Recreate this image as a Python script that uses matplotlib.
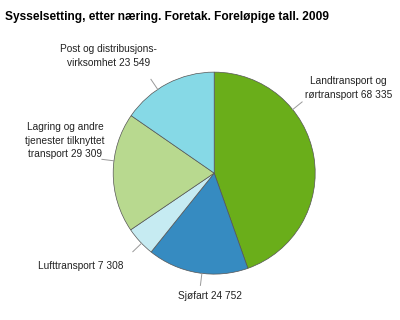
import numpy as np
import matplotlib
matplotlib.use("Agg")
import matplotlib.pyplot as plt

plt.rcParams['font.family'] = ['Liberation Sans', 'DejaVu Sans']

# Data
labels = ["Landtransport og\nrørtransport 68 335", "Sjøfart 24 752", "Lufttransport 7 308",
          "Lagring og andre\ntjenester tilknyttet\ntransport 29 309",
          "Post og distribusjons-\nvirksomhet 23 549"]
values = [68335, 24752, 7308, 29309, 23549]
colors = ["#6aae1a", "#368bc1", "#c6ebf2", "#b8d98f", "#86d9e6"]

# label text positions (pie radius = 1) and angle of the connector lines
text_pos = [(1.33, 0.84), (-0.04, -1.22), (-1.32, -0.92), (-1.475, 0.32), (-1.05, 1.16)]
line_ang = [39, 263, 224, 173, 124]

fig = plt.figure(figsize=(4.0, 3.2), dpi=100)
ax = fig.add_axes([0.283, 0.143, 0.505, 0.632])
wedges, _ = ax.pie(values, colors=colors, startangle=90, counterclock=False,
                   wedgeprops=dict(edgecolor="#555555", linewidth=0.5))
ax.set_aspect("equal")
ax.set_xlim(-1, 1)
ax.set_ylim(-1, 1)

for lab, (tx, ty), a in zip(labels, text_pos, line_ang):
    ang = np.deg2rad(a)
    x, y = np.cos(ang), np.sin(ang)
    ax.plot([x, 1.12 * x], [y, 1.12 * y], color="#999999", lw=0.7, clip_on=False)
    ax.text(tx, ty, lab, ha="center", va="center", fontsize=7.3, color="#222222",
            linespacing=1.45)

fig.text(0.012, 0.965, "Sysselsetting, etter næring. Foretak. Foreløpige tall. 2009",
         fontsize=8.6, fontweight="bold", va="top", ha="left")

fig.savefig("out.png", dpi=100)
